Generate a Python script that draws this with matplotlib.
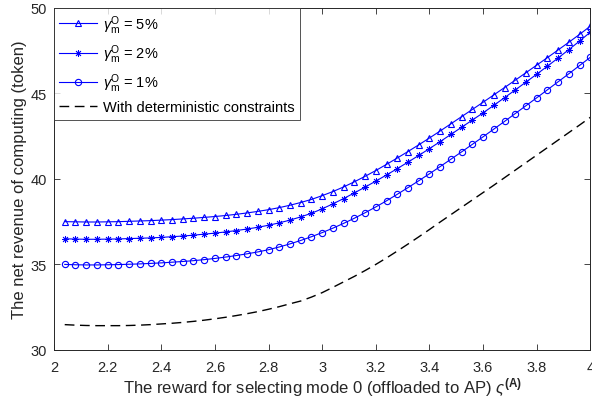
import numpy as np
import matplotlib
matplotlib.use("Agg")
import matplotlib.pyplot as plt

plt.rcParams['font.family'] = ['Liberation Sans', 'DejaVu Sans']
plt.rcParams['mathtext.fontset'] = 'custom'
plt.rcParams['mathtext.rm'] = 'Liberation Sans'
plt.rcParams['mathtext.it'] = 'Liberation Sans:italic'
plt.rcParams['mathtext.bf'] = 'Liberation Sans:bold'

# reward for mode 0
reward = [2.04, 2.08, 2.12, 2.16, 2.20, 2.24, 2.28, 2.32, 2.36, 2.40,
          2.44, 2.48, 2.52, 2.56, 2.60, 2.64, 2.68, 2.72, 2.76, 2.80,
          2.84, 2.88, 2.92, 2.96, 3.00, 3.04, 3.08, 3.12, 3.16, 3.20,
          3.24, 3.28, 3.32, 3.36, 3.40, 3.44, 3.48, 3.52, 3.56, 3.60,
          3.64, 3.68, 3.72, 3.76, 3.80, 3.84, 3.88, 3.92, 3.96, 4.00]

# gamma = 5%
rev_5 = [37.50, 37.49, 37.48, 37.48, 37.49, 37.50, 37.52, 37.54, 37.56, 37.59,
         37.62, 37.66, 37.70, 37.75, 37.80, 37.86, 37.93, 38.01, 38.10, 38.20,
         38.32, 38.46, 38.62, 38.80, 39.02, 39.26, 39.53, 39.83, 40.15, 40.49,
         40.85, 41.22, 41.60, 41.99, 42.39, 42.80, 43.22, 43.64, 44.06, 44.48,
         44.91, 45.34, 45.77, 46.21, 46.65, 47.09, 47.54, 47.99, 48.45, 48.93]

# gamma = 2%
rev_2 = [36.50, 36.48, 36.47, 36.47, 36.48, 36.49, 36.51, 36.53, 36.55, 36.58,
         36.62, 36.66, 36.71, 36.77, 36.83, 36.90, 36.98, 37.07, 37.17, 37.29,
         37.43, 37.59, 37.78, 37.99, 38.25, 38.54, 38.85, 39.18, 39.52, 39.87,
         40.23, 40.60, 40.98, 41.37, 41.77, 42.18, 42.60, 43.02, 43.44, 43.86,
         44.30, 44.75, 45.20, 45.66, 46.12, 46.59, 47.07, 47.56, 48.06, 48.58]

# gamma = 1%
rev_1 = [35.00, 34.98, 34.97, 34.97, 34.98, 34.99, 35.01, 35.03, 35.06, 35.09,
         35.13, 35.17, 35.22, 35.28, 35.35, 35.43, 35.52, 35.62, 35.73, 35.86,
         36.02, 36.20, 36.40, 36.62, 36.86, 37.12, 37.40, 37.70, 38.02, 38.36,
         38.72, 39.10, 39.49, 39.89, 40.30, 40.72, 41.15, 41.58, 42.02, 42.46,
         42.91, 43.36, 43.82, 44.28, 44.74, 45.21, 45.68, 46.15, 46.63, 47.11]

# deterministic constraints
rev_det = [31.48, 31.45, 31.43, 31.42, 31.42, 31.42, 31.43, 31.45, 31.48, 31.52,
           31.56, 31.61, 31.67, 31.74, 31.82, 31.91, 32.01, 32.12, 32.24, 32.38,
           32.53, 32.70, 32.86, 33.09, 33.35, 33.66, 33.98, 34.30, 34.64, 35.00,
           35.38, 35.78, 36.19, 36.61, 37.04, 37.48, 37.91, 38.34, 38.77, 39.20,
           39.63, 40.07, 40.51, 40.95, 41.39, 41.83, 42.27, 42.71, 43.15, 43.60]

labels = [r'$\gamma_{\mathrm{m}}^{\mathrm{O}}$ = 5%',
          r'$\gamma_{\mathrm{m}}^{\mathrm{O}}$ = 2%',
          r'$\gamma_{\mathrm{m}}^{\mathrm{O}}$ = 1%',
          'With deterministic constraints']

fig = plt.figure(figsize=(5.92, 4.02), dpi=100)
ax = fig.add_axes([0.0912, 0.127, 0.906, 0.851])

ax.plot(reward, rev_5, color='b', lw=0.8, marker='^', ms=5, mfc='none', mew=0.8, label=labels[0])
ax.plot(reward, rev_2, color='b', lw=0.8, marker=(8, 2, 0), ms=5, mew=0.6, label=labels[1])
ax.plot(reward, rev_1, color='b', lw=0.8, marker='o', ms=4.5, mfc='none', mew=0.8, label=labels[2])
ax.plot(reward, rev_det, color='k', lw=1.0, ls=(0, (7, 4)), label=labels[3])

ax.set_xlim(2, 4)
ax.set_ylim(30, 50)
ax.set_xticks(np.arange(2, 4.01, 0.2))
ax.set_xticklabels(['2', '2.2', '2.4', '2.6', '2.8', '3', '3.2', '3.4', '3.6', '3.8', '4'])
ax.set_yticks([30, 35, 40, 45, 50])
ax.tick_params(direction='in', top=True, right=True, labelsize=10.5, colors='0.15', length=4, width=0.6)
ax.tick_params(axis='x', pad=7)
ax.tick_params(axis='y', pad=5)
for s in ax.spines.values():
    s.set_color('0.15')
    s.set_linewidth(0.7)

ax.set_xlabel(r'The reward for selecting mode 0 (offloaded to AP) $\varsigma^{\mathbf{(A)}}$', fontsize=12, color='0.15', labelpad=1)
ax.set_ylabel('The net revenue of computing (token)', fontsize=12, color='0.15', labelpad=3)

leg = ax.legend(loc='upper left', bbox_to_anchor=(0.0, 1.0), fontsize=10.5, frameon=True, fancybox=False,
                borderaxespad=0.0, handlelength=2.6, labelspacing=0.45, borderpad=0.35, handletextpad=0.4)
leg.get_frame().set_edgecolor('0.15')
leg.get_frame().set_linewidth(0.7)

fig.savefig('out.png', dpi=100)
